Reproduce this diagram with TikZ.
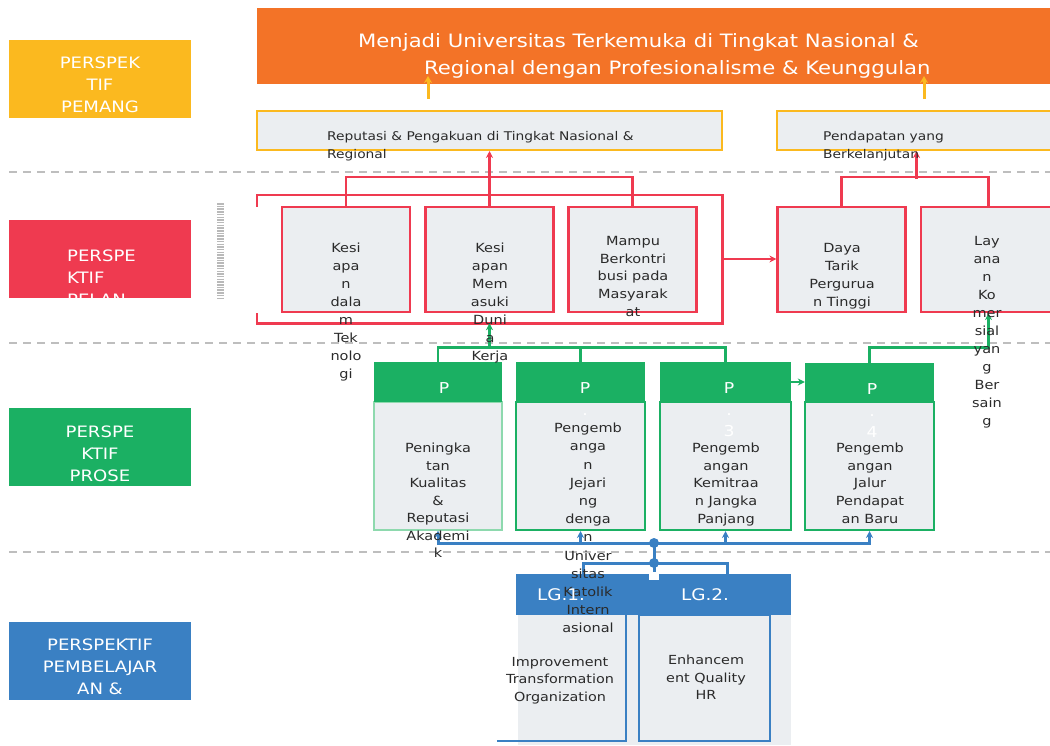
\documentclass[tikz,border=0pt]{standalone}
\usepackage{fontspec}
\setmainfont{DejaVu Sans}[FakeStretch=1.15]
\usetikzlibrary{arrows.meta}

\definecolor{pyellow}{HTML}{FBB91F}
\definecolor{porange}{HTML}{F37327}
\definecolor{pred}{HTML}{EF3A50}
\definecolor{pgreen}{HTML}{1BB063}
\definecolor{pgreenlt}{HTML}{8ED9AE}
\definecolor{pblue}{HTML}{3A80C3}
\definecolor{boxgray}{HTML}{EBEEF1}
\definecolor{txtgray}{HTML}{2A2A2A}
\definecolor{sepgray}{HTML}{BEBEBE}

\begin{document}
\begin{tikzpicture}[
  x=1pt, y=-1pt,
  persp/.style = {rectangle, inner sep=0pt, minimum width=182pt, minimum height=78pt},
  persptxt/.style = {text=white, align=center, inner sep=0pt,
    font=\fontsize{15.7}{22}\selectfont},
  titletxt/.style = {text=white, inner sep=0pt, font=\fontsize{18.4}{27}\selectfont},
  goalbox/.style = {rectangle, draw=pyellow, line width=2pt, fill=boxgray,
    inner sep=0pt, minimum height=39pt},
  goaltxt/.style = {text=txtgray, align=left, inner sep=0pt,
    font=\fontsize{12}{18}\selectfont},
  redbox/.style = {rectangle, draw=pred, line width=2.2pt, fill=boxgray,
    inner sep=0pt, minimum width=128pt, minimum height=105pt},
  greenhead/.style = {rectangle, fill=pgreen, inner sep=0pt, minimum height=40pt},
  greenbody/.style = {rectangle, draw=pgreen, line width=2pt, fill=boxgray,
    inner sep=0pt, minimum height=128pt},
  headtxt/.style = {text=white, align=center, inner sep=0pt,
    font=\fontsize{15}{21.5}\selectfont},
  bodytxt/.style = {text=txtgray, align=center, inner sep=0pt,
    font=\fontsize{12.6}{18}\selectfont},
  lghead/.style = {rectangle, fill=pblue, inner sep=0pt, minimum height=41pt},
  lgtxt/.style = {text=txtgray, align=center, inner sep=0pt,
    font=\fontsize{12.5}{17.5}\selectfont},
  sepline/.style = {sepgray, line width=1.4pt, dash pattern=on 8pt off 6pt},
  yarrow/.style = {pyellow, line width=3pt, -{Stealth[length=7pt,width=8pt]}},
  redline/.style = {pred, line width=2.6pt},
  redarrow/.style = {redline, -{Stealth[length=7pt,width=7pt]}},
  greenline/.style = {pgreen, line width=2.8pt},
  greenarrow/.style = {greenline, -{Stealth[length=7pt,width=7pt]}},
  blueline/.style = {pblue, line width=3pt},
  bluearrow/.style = {blueline, -{Stealth[length=7pt,width=7pt]}}
]
\useasboundingbox (0,0) rectangle (1050,745);

% separators
\draw[sepline] (9,172) -- (1050,172);
\draw[sepline] (9,343) -- (1050,343);
\draw[sepline] (9,552) -- (1050,552);

% perspective labels
\node[persp, fill=pyellow] (pemangku) at (100,79) {};
\node[persp, fill=pred] (pelanggan) at (100,259) {};
\node[persp, fill=pgreen] (proses) at (100,446.5) {};
\node[persp, fill=pblue] (pembelajaran) at (100,660.5) {};

% vision
\node[rectangle, fill=porange, inner sep=0pt, minimum width=799pt, minimum height=76pt] (vision) at (656.5,46) {};
\node[titletxt, anchor=base west] (vision1) at (358,47) {Menjadi Universitas Terkemuka di Tingkat Nasional \&};
\node[titletxt, anchor=base west] (vision2) at (424,74) {Regional dengan Profesionalisme \& Keunggulan};
\node[titletxt, anchor=base west] (vision3) at (424,99) {Akademik};

% goals
\node[goalbox, minimum width=465pt] (reputasi) at (489.5,130.5) {};
\node[goalbox, minimum width=279pt] (pendapatan) at (916.5,130.5) {};

% customer
\node[rectangle, inner sep=0pt, minimum width=465pt, minimum height=128pt] (kpiregion) at (489.5,259) {};
\node[redbox] (kesiapantek) at (346,259.5) {};
\node[redbox] (kesiapankerja) at (489.5,259.5) {};
\node[redbox] (kontribusi) at (632.5,259.5) {};
\node[redbox] (dayatarik) at (841.5,259.5) {};
\node[redbox, minimum width=135pt] (layanan) at (988.5,259.5) {};
\draw[gray!55, line width=7pt, dash pattern=on 1.5pt off 1.2pt] (220,203) -- (220,300);

% process
\node[greenbody, draw=pgreenlt, line width=1.4pt, minimum width=128pt] (g1body) at (438,466) {};
\node[greenbody, minimum width=129pt] (g2body) at (580.5,466) {};
\node[greenbody, minimum width=131pt] (g3body) at (725.5,466) {};
\node[greenbody, minimum width=129pt] (g4body) at (869.5,466) {};
\node[greenhead, minimum width=128pt] (g1head) at (438,382) {};
\node[greenhead, minimum width=129pt] (g2head) at (580.5,382) {};
\node[greenhead, minimum width=131pt] (g3head) at (725.5,382) {};
\node[greenhead, minimum width=129pt] (g4head) at (869.5,383) {};

% learning & growth
\node[rectangle, fill=boxgray, inner sep=0pt, minimum width=273pt, minimum height=130pt] (lgbase) at (654.5,680) {};
\node[lghead, minimum width=134pt] (lg1head) at (583,594.5) {};
\node[lghead, minimum width=141pt] (lg2head) at (720.5,594.5) {};
\node[rectangle, inner sep=0pt, minimum width=129pt, minimum height=126pt] (lg1body) at (561.5,678) {};
\node[rectangle, draw=pblue, line width=2.4pt, inner sep=0pt, minimum width=131pt, minimum height=126pt] (lg2body) at (704.5,678) {};
\draw[blueline, line width=2.4pt] (lg1body.south west) -| (lg1body.north east);

% vision arrows
\draw[yarrow] ([xshift=-61.5pt,yshift=11pt]reputasi.north) -- ++(0,-23);
\draw[yarrow] ([xshift=7.5pt,yshift=11pt]pendapatan.north) -- ++(0,-23);

% customer links
\draw[redline] (kesiapantek.north) -- ++(0,-29) -| (kontribusi.north);
\draw[redarrow] (kesiapankerja.north) -- (reputasi.south);
\draw[redline] (dayatarik.north) -- ++(0,-29) -| (layanan.north);
\draw[redarrow] ([yshift=-28pt]pendapatan.south) -- (pendapatan.south);
\draw[redline] ([yshift=-12pt]kpiregion.north west) |- (kpiregion.north east)
  |- (kpiregion.south west) -- ++(0,-10);
\draw[redarrow] (kpiregion.east) -- (kpiregion.east -| dayatarik.west);

% process links
\draw[greenline] (g1head.north) -- ++(0,-14) -| (g3head.north);
\draw[greenline] (g2head.north) -- ++(0,-14);
\draw[greenarrow] ([yshift=-25pt]kpiregion.south) -- (kpiregion.south);
\draw[greenarrow] (g4head.north) -- ++(0,-15) -| (layanan.south);
\draw[greenarrow] (g3head.east) -- (g3head.east -| g4head.west);

% learning links
\coordinate (hubtop) at (654,543);
\coordinate (hubbot) at (654,563);
\draw[bluearrow] (hubtop) -| (g1body.south);
\draw[bluearrow] (hubtop) -| (g2body.south);
\draw[bluearrow] (hubtop) -| (g3body.south);
\draw[bluearrow] (hubtop) -| (g4body.south);
\draw[blueline] (hubtop) -- (hubbot) -- ++(0,12);
\draw[blueline] (hubbot) -| (lg1head.north);
\draw[blueline] (hubbot) -| ([xshift=6.5pt]lg2head.north);
\fill[pblue] (hubtop) circle (5pt);
\fill[pblue] (hubbot) circle (5pt);
\fill[white] (649,572) rectangle (659,580);

% texts
\node[persptxt, anchor=north] (pemangkutxt) at (100,57) {PERSPEK\\TIF\\PEMANG};
\node[persptxt, align=left, anchor=north west] (pelanggantxt) at (67,250) {PERSPE\\KTIF\\PELAN};
\node[persptxt, anchor=north] (prosestxt) at (100,426) {PERSPE\\KTIF\\PROSE};
\node[persptxt, anchor=north] (pembelajarantxt) at (100,639) {PERSPEKTIF\\PEMBELAJAR\\AN \&};

\node[goaltxt, anchor=north west] (reputasitxt) at (327,131) {Reputasi \& Pengakuan di Tingkat Nasional \&\\Regional};
\node[goaltxt, anchor=north west] (pendapatantxt) at (823,131) {Pendapatan yang\\Berkelanjutan};

\node[bodytxt, anchor=north] (kesiapantektxt) at (346,243) {Kesi\\apa\\n\\dala\\m\\Tek\\nolo\\gi};
\node[bodytxt, anchor=north] (kesiapankerjatxt) at (490,243) {Kesi\\apan\\Mem\\asuki\\Duni\\a\\Kerja};
\node[bodytxt, anchor=north, font=\fontsize{12.6}{17.7}\selectfont] (kontribusitxt) at (633,236) {Mampu\\Berkontri\\busi pada\\Masyarak\\at};
\node[bodytxt, anchor=north] (dayatariktxt) at (842,243) {Daya\\Tarik\\Pergurua\\n Tinggi};
\node[bodytxt, anchor=north] (layanantxt) at (987,236) {Lay\\ana\\n\\Ko\\mer\\sial\\yan\\g\\Ber\\sain\\g};

\node[headtxt, anchor=north] (p1txt) at (444,382.5) {P};
\node[headtxt, anchor=north] (p2txt) at (585,382.5) {P\\.};
\node[headtxt, anchor=north] (p3txt) at (729,382.5) {P\\.\\3};
\node[headtxt, anchor=north] (p4txt) at (872,383.5) {P\\.\\4};

\node[bodytxt, anchor=north, font=\fontsize{12.6}{17.5}\selectfont] (g1txt) at (438,443) {Peningka\\tan\\Kualitas\\\&\\Reputasi\\Akademi\\k};
\node[bodytxt, anchor=north, font=\fontsize{12.6}{18.2}\selectfont] (g2txt) at (588,423) {Pengemb\\anga\\n\\Jejari\\ng\\denga\\n\\Univer\\sitas\\Katolik\\Intern\\asional};
\node[bodytxt, anchor=north, font=\fontsize{12.6}{17.6}\selectfont] (g3txt) at (726,443) {Pengemb\\angan\\Kemitraa\\n Jangka\\Panjang};
\node[bodytxt, anchor=north, font=\fontsize{12.6}{17.6}\selectfont] (g4txt) at (870,443) {Pengemb\\angan\\Jalur\\Pendapat\\an Baru};

\node[headtxt, font=\fontsize{16}{20}\selectfont] (lg1txt) at (561,595) {LG.1.};
\node[headtxt, font=\fontsize{16}{20}\selectfont] (lg2txt) at (705,595) {LG.2.};
\node[lgtxt, anchor=north] (lg1bodytxt) at (560,657) {Improvement\\Transformation\\Organization};
\node[lgtxt, anchor=north] (lg2bodytxt) at (706,655) {Enhancem\\ent Quality\\HR};

\end{tikzpicture}
\end{document}
